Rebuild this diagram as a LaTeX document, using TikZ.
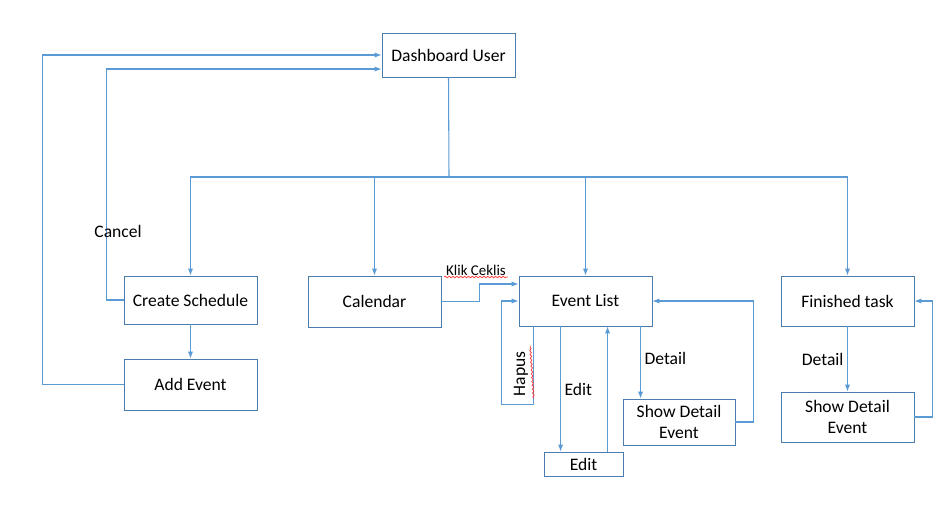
\documentclass[tikz,border=0pt]{standalone}
\usepackage{fontspec}
\setmainfont{Carlito}
\usepackage{xcolor}
\definecolor{boxline}{HTML}{4A7DAE}
\definecolor{flowline}{HTML}{5B9BD5}
\usetikzlibrary{arrows.meta,decorations.pathmorphing}
\tikzset{
 box/.style={draw=boxline, line width=0.5pt, minimum width=2.66cm, minimum height=0.96cm, align=center, font=\fontsize{10}{12}\selectfont},
 arr/.style={draw=flowline, line width=0.6pt, -{Latex[length=4pt,width=3pt]}},
 lin/.style={draw=flowline, line width=0.6pt},
 lbl/.style={font=\fontsize{10}{12}\selectfont, inner sep=2pt},
 squiggle/.style={draw=red!80, line width=0.4pt, decorate, decoration={snake,amplitude=0.45pt,segment length=2.2pt}}
}

\begin{document}
\begin{tikzpicture}[x=0.02cm,y=-0.02cm]
\useasboundingbox (0,0) rectangle (942,524);

% boxes
\node[box, minimum height=0.88cm] (dash) at (448.5,55) {Dashboard User};
\node[box] (cs) at (190.5,300) {Create Schedule};
\node[box, minimum height=1.02cm] (ae) at (190.5,384.5) {Add Event};
\node[box, minimum height=1.02cm] (cal) at (374.5,301.5) {Calendar};
\node[box, minimum height=1cm] (el) at (585.5,301) {Event List};
\node[box, minimum height=1cm] (ft) at (847.5,301) {Finished task};
\node[box, minimum width=2.24cm, minimum height=0.92cm] (sd) at (679,422) {Show Detail\\Event};
\node[box, minimum width=1.58cm, minimum height=0.48cm] (ed) at (583.5,464) {Edit};
\node[box, minimum height=1cm] (sd2) at (847.5,417) {Show Detail\\Event};

% from dashboard
\coordinate (bus) at (449,177);
\draw[lin] (dash.south) -- (bus);
\foreach \n in {cs,cal,el,ft}
 \draw[arr] (bus) -| (\n.north);

% back to dashboard
\draw[arr] (ae.west) -- ++(-81,0) |- (dash.west);
\draw[arr] (cs.west) -- ++(-17,0) |- ([yshift=-0.28cm]dash.west);
\node[lbl] (cancel) at (118,231) {Cancel};
\draw[arr] (cs.south) -- (ae.north);

% calendar
\draw[arr] (cal.east) -- ++(38,0) |- ([yshift=0.34cm]el.west);
\node[lbl, font=\fontsize{8.5}{10}\selectfont] (klik) at (476,270) {Klik Ceklis};
\draw[squiggle] ([yshift=1.2pt,xshift=1pt]klik.south west) -- ([yshift=1.2pt,xshift=-1pt]klik.south east);

% event list
\draw[arr] ([xshift=0.3cm]el.south west) -- ++(0,78) -- ++(-32,0) |- (el.west);
\node[lbl, rotate=90] (hapus) at (521,374) {Hapus};
\draw[squiggle] ([yshift=1.2pt,xshift=1pt]hapus.south west) -- ([yshift=1.2pt,xshift=-1pt]hapus.south east);
\draw[arr] ([xshift=0.84cm]el.south west) -- ([xshift=0.84cm]el.south west |- ed.north) node[lbl, midway, right] {Edit};
\draw[arr] ([xshift=1.78cm]el.south west |- ed.north) -- ([xshift=1.78cm]el.south west);
\draw[arr] ([xshift=2.44cm]el.south west) -- ([xshift=2.44cm]el.south west |- sd.north) node[lbl, pos=0.45, right] {Detail};
\draw[arr] (sd.east) -- ++(18,0) |- (el.east);

% finished task
\draw[arr] (ft.south) -- (sd2.north) node[lbl, midway, left] {Detail};
\draw[arr] (sd2.east) -- ++(18,0) |- (ft.east);
\end{tikzpicture}
\end{document}
